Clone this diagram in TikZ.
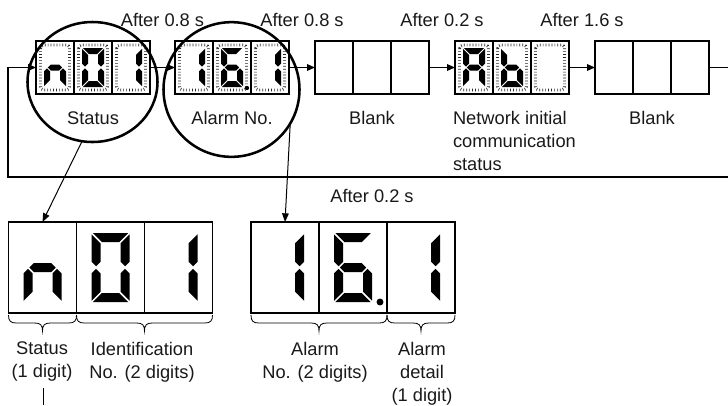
\documentclass[tikz,border=0pt]{standalone}
\usepackage{fontspec}
\setmainfont{Liberation Sans}
\usetikzlibrary{arrows.meta,shapes.geometric,calc}

% Seven-segment glyph pieces (local frame: origin at top-left, y grows downwards)
\newcommand\segpatha{\fill (\sgG,0) -- (\sgW-\sgG,0) -- (\sgW-\sgG-\sgT,\sgT) -- (\sgG+\sgT,\sgT) -- cycle;}
\newcommand\segpathd{\fill (\sgG,\sgH) -- (\sgW-\sgG,\sgH) -- (\sgW-\sgG-\sgT,\sgH-\sgT) -- (\sgG+\sgT,\sgH-\sgT) -- cycle;}
\newcommand\segpathg{\fill (\sgh+\sgG,\sgm) -- (\sgT+\sgG,\sgm-\sgh) -- (\sgW-\sgT-\sgG,\sgm-\sgh) -- (\sgW-\sgh-\sgG,\sgm) -- (\sgW-\sgT-\sgG,\sgm+\sgh) -- (\sgT+\sgG,\sgm+\sgh) -- cycle;}
\newcommand\segpathf{\fill (0,\sgG) -- (\sgT,\sgT+\sgG) -- (\sgT,\sgm-\sgh-\sgG) -- (\sgh,\sgm-\sgG) -- (0,\sgm-\sgh-\sgG) -- cycle;}
\newcommand\segpathe{\fill (0,\sgH-\sgG) -- (\sgT,\sgH-\sgT-\sgG) -- (\sgT,\sgm+\sgh+\sgG) -- (\sgh,\sgm+\sgG) -- (0,\sgm+\sgh+\sgG) -- cycle;}
\newcommand\segpathb{\fill (\sgW,\sgG) -- (\sgW-\sgT,\sgT+\sgG) -- (\sgW-\sgT,\sgm-\sgh-\sgG) -- (\sgW-\sgh,\sgm-\sgG) -- (\sgW,\sgm-\sgh-\sgG) -- cycle;}
\newcommand\segpathc{\fill (\sgW,\sgH-\sgG) -- (\sgW-\sgT,\sgH-\sgT-\sgG) -- (\sgW-\sgT,\sgm+\sgh+\sgG) -- (\sgW-\sgh,\sgm+\sgG) -- (\sgW,\sgm+\sgh+\sgG) -- cycle;}

% #1 top-left corner, #2 width, #3 height, #4 stroke, #5 lit segments
\newcommand\sevenseg[5]{%
  \begin{scope}[shift={(#1)}]
    \def\sgW{#2}\def\sgH{#3}\def\sgT{#4}%
    \pgfmathsetmacro\sgG{#4*0.14}%
    \pgfmathsetmacro\sgh{#4/2}%
    \pgfmathsetmacro\sgm{#3/2}%
    \foreach \s in {#5}{\csname segpath\s\endcsname}
  \end{scope}}

% curly brace under a group of cells, from #1 to #2
\newcommand\cellbrace[2]{%
  \draw[bracestroke] let \p1=([yshift=-1.5pt]#1), \p2=([yshift=-1.5pt]#2),
      \p3=($(\p1)!0.5!(\p2)$) in
    (\x1,\y1) .. controls (\x1,\y1-4.5pt) and (\x1+1.5pt,\y1-6pt) .. (\x1+6pt,\y1-6pt)
    -- (\x3-6pt,\y1-6pt) .. controls (\x3-1.5pt,\y1-6pt) and (\x3,\y1-7.5pt) .. (\x3,\y1-12pt)
    .. controls (\x3,\y1-7.5pt) and (\x3+1.5pt,\y1-6pt) .. (\x3+6pt,\y1-6pt)
    -- (\x2-6pt,\y1-6pt) .. controls (\x2-1.5pt,\y1-6pt) and (\x2,\y1-4.5pt) .. (\x2,\y1);}

\begin{document}
\begin{tikzpicture}[x=0.75pt,y=-0.75pt,
  every node/.style={inner sep=0pt, outer sep=0pt},
  txt/.style={font=\fontsize{13.7}{17.25}\selectfont, text=black!90},
  smallcell/.style={draw, line width=1.1pt, minimum width=28.5pt, minimum height=39.75pt},
  bigcell/.style={draw, line width=1.1pt, minimum width=51pt, minimum height=68.25pt},
  ledglow/.style={draw=black!85, line width=2.2pt, dash pattern=on 0.5pt off 1.7pt, rounded corners=2.5pt},
  lens/.style={draw, ellipse, line width=1.9pt},
  flow/.style={line width=0.9pt, -{Triangle[length=6pt,width=5pt]}},
  link/.style={line width=0.9pt},
  pointer/.style={line width=0.75pt, -{Triangle[length=6.5pt,width=5pt]}},
  bracestroke/.style={line width=0.6pt}
]
\useasboundingbox (0,0) rectangle (728,405);

% ---- sequence of displays ----
\foreach \n/\x in {d1a/55,d1b/93,d1c/131,d2a/194,d2b/232,d2c/270,
                   b1a/334,b1b/372,b1c/410,d4a/474,d4b/512,d4c/550,
                   b2a/614,b2b/652,b2c/690}
  \node[smallcell] (\n) at (\x,67.5) {};

% unlit segment outlines
\foreach \c in {d1a,d1b,d1c,d2a,d2b,d2c,d4a,d4b,d4c}
  \draw[ledglow] ([shift={(4.5,4)}]\c.north west) rectangle ([shift={(-4.5,-4)}]\c.south east);

% lit segments: n01
\sevenseg{$(d1a.north west)+(8,7)$}{22}{39}{6}{c,e,g}
\sevenseg{$(d1b.north west)+(8,7)$}{22}{39}{6}{a,b,c,d,e,f}
\sevenseg{$(d1c.north west)+(8,7)$}{22}{39}{6}{b,c}
% 16.1
\sevenseg{$(d2a.north west)+(8,7)$}{22}{39}{6}{b,c}
\sevenseg{$(d2b.north west)+(8,7)$}{22}{39}{6}{a,c,d,e,f,g}
\fill ($(d2b.north west)+(34,47)$) circle (1.6pt);
\sevenseg{$(d2c.north west)+(8,7)$}{22}{39}{6}{b,c}
% Ab
\sevenseg{$(d4a.north west)+(8,7)$}{22}{39}{6}{a,b,c,e,f,g}
\sevenseg{$(d4b.north west)+(8,7)$}{22}{39}{6}{c,d,e,f,g}

% ---- labels under the displays ----
\node[txt, anchor=base] (lbS) at (93,124) {Status};
\node[txt, anchor=base] (lbA) at (232,124) {Alarm No.};
\node[txt, anchor=base] (lbB1) at (372,124) {Blank};
\node[txt, anchor=north west, align=left] (lbN) at (453,111) {Network initial\\communication\\status};
\node[txt, anchor=base] (lbB2) at (652,124) {Blank};

% ---- timing labels ----
\node[txt, anchor=base] (tm1) at (162.5,26) {After 0.8 s};
\node[txt, anchor=base] (tm2) at (302,26) {After 0.8 s};
\node[txt, anchor=base] (tm3) at (442,26) {After 0.2 s};
\node[txt, anchor=base] (tm4) at (582,26) {After 1.6 s};

% ---- flow connectors ----
\draw[flow] (d1c.east) -- (d2a.west);
\draw[flow] (d2c.east) -- (b1a.west);
\draw[flow] (b1c.east) -- (d4a.west);
\draw[flow] (d4c.east) -- (b2a.west);
\coordinate (exitR) at (728,67.5);
\coordinate (backR) at (728,177);
\coordinate (backL) at (8,177);
\draw[link] (b2c.east) -- (exitR);
\draw[flow] (backR) -- (backL) |- (d1a.west);

% ---- magnifier circles ----
\node[lens, minimum width=97.5pt, minimum height=90pt] (c1) at (92.5,82) {};
\node[lens, minimum width=102pt, minimum height=101pt] (c2) at (231.5,89.5) {};

% ---- enlarged displays ----
\foreach \n/\x in {L1a/42.5,L1b/110.5,L1c/178.5}
  \node[bigcell] (\n) at (\x,267.5) {};
\foreach \n/\x in {L2a/285,L2b/353,L2c/421}
  \node[bigcell] (\n) at (\x,267.5) {};

\sevenseg{$(L1a.north west)+(15,11)$}{38}{69}{9}{c,e,g}
\sevenseg{$(L1b.north west)+(15,11)$}{38}{69}{9}{a,b,c,d,e,f}
\sevenseg{$(L1c.north west)+(15,11)$}{38}{69}{9}{b,c}
\sevenseg{$(L2a.north west)+(15,11)$}{38}{69}{9}{b,c}
\sevenseg{$(L2b.north west)+(15,11)$}{38}{69}{9}{a,c,d,e,f,g}
\fill ($(L2b.north west)+(61,80)$) circle (2.6pt);
\sevenseg{$(L2c.north west)+(15,11)$}{38}{69}{9}{b,c}

\node[txt, anchor=base] (tm5) at (372,202) {After 0.2 s};

\draw[pointer] (c1.-100) -- (L1a.north);
\draw[pointer] (c2.-30) -- (L2a.north);

% ---- digit group braces and captions ----
\cellbrace{L1a.south west}{L1a.south east}
\cellbrace{L1b.south west}{L1c.south east}
\cellbrace{L2a.south west}{L2b.south east}
\cellbrace{L2c.south west}{L2c.south east}

\node[txt, anchor=north, align=center] (cpS) at (42,342) {Status\\(1 digit)};
\node[txt, anchor=north, align=center] (cpI) at (142,342) {Identification\\No. (2 digits)};
\node[txt, anchor=north, align=center] (cpA) at (315,342) {Alarm\\No. (2 digits)};
\node[txt, anchor=north, align=center] (cpD) at (422,342) {Alarm\\detail\\(1 digit)};

\coordinate (stubT) at (43,388);
\coordinate (stubB) at (43,405);
\draw[line width=0.6pt] (stubT) -- (stubB);
\end{tikzpicture}
\end{document}
